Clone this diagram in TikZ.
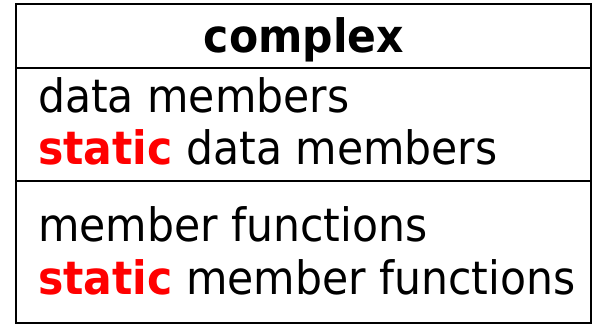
\documentclass[tikz,border=0pt]{standalone}
\usepackage{fontspec}
\setmainfont[FakeStretch=0.925]{DejaVu Sans}
\begin{document}
\begin{tikzpicture}[x=1pt,y=1pt,
  txt/.style={inner sep=0pt,anchor=base west,font=\fontsize{46}{52}\selectfont},
  ttl/.style={inner sep=0pt,anchor=base,font=\fontsize{46}{52}\selectfont\bfseries},
  rule/.style={line width=2.3pt}]
\useasboundingbox (0,0) rectangle (593,328);
\draw[rule] (16,324) rectangle (591,5);
\draw[rule] (16,260) -- (591,260);
\draw[rule] (16,147) -- (591,147);
\node[ttl] (t) at (304,275) {complex};
\node[txt] (a) at (38,215) {data members};
\node[txt] (b) at (38,163) {\textcolor{red}{\bfseries static} data members};
\node[txt] (c) at (38,86) {member functions};
\node[txt] (d) at (38,33) {\textcolor{red}{\bfseries static} member functions};
\end{tikzpicture}
\end{document}
